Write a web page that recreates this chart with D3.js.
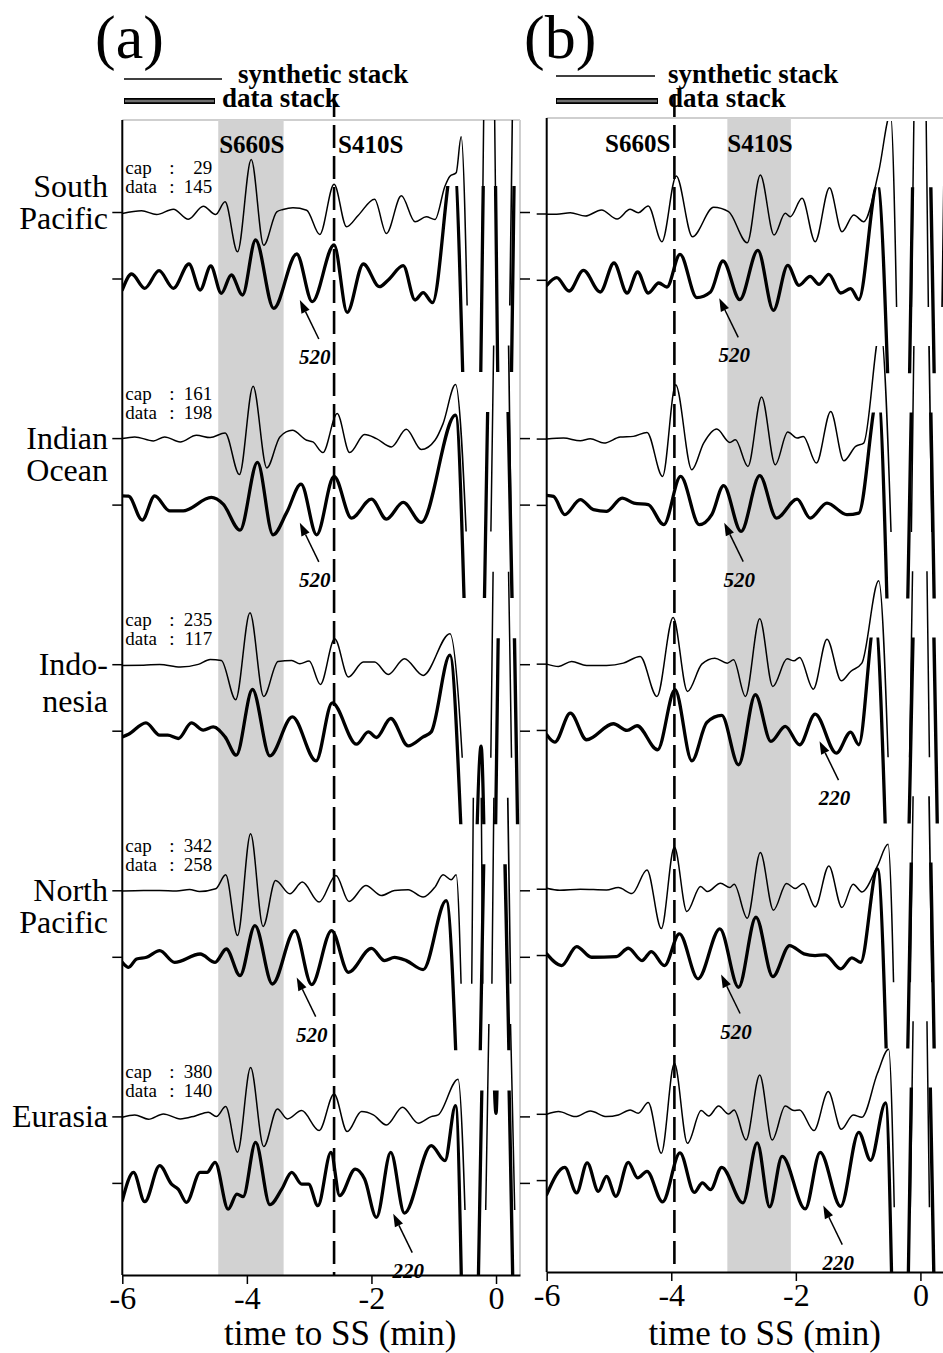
<!DOCTYPE html>
<html>
<head>
<meta charset="utf-8">
<script src="https://cdn.jsdelivr.net/npm/d3@7"></script>
<style>
  body { margin: 0; background: #fff; }
  svg { display: block; }
  text { font-family: "Liberation Serif", "Times New Roman", serif; fill: #000; }
</style>
</head>
<body>
<svg id="fig" width="943" height="1353"></svg>
<script>
// ---------------------------------------------------------------
// SS precursor stacks: synthetic vs. data, two alignments (a) and (b)
// Each trace is a list of [time to SS (min), relative amplitude].
// ---------------------------------------------------------------
const regionNames  = ["South Pacific", "Indian Ocean", "Indonesia", "North Pacific", "Eurasia"];
const regionLabels = [["South", "Pacific"], ["Indian", "Ocean"], ["Indo-", "nesia"], ["North", "Pacific"], ["Eurasia"]];
const capCounts  = [29, 161, 235, 342, 380];
const dataCounts = [145, 198, 117, 258, 140];
const timeTicks  = [-6, -4, -2, 0];
const timeDomain = [-6, 0.385];

// phase windows (shaded) and reference arrival (dashed), minutes
const shadeA = [-4.46, -3.41];
const dashA  = -2.60;
const shadeB = [-3.10, -2.08];
const dashB  = -3.95;

// ---------------- panel (a) ----------------
const synA_SP = [[-6,-0.1],[-5.69,0.17],[-5.45,-0.2],[-5.18,0.33],[-4.94,-0.67],[-4.70,0.63],[-4.50,-0.2],[-4.35,1.07],[-4.15,-3.93],[-3.93,5.3],[-3.73,-3.27],[-3.52,0.07],[-3.42,0.3],[-3.26,0.47],[-3.04,0.23],[-2.83,-2.2],[-2.60,2.83],[-2.40,-1.43],[-2.21,-0.27],[-1.95,1.33],[-1.76,-2.1],[-1.52,1.67],[-1.30,-0.93],[-1.12,-0.43],[-0.98,-0.7],[-0.82,2.63],[-0.74,3.63],[-0.64,3.97],[-0.56,7.57],[-0.32,-40],[-0.11,40],[0.10,-40],[0.32,40]];
const datA_SP = [[-6,-1.1],[-5.85,0.5],[-5.64,-0.93],[-5.41,0.83],[-5.18,-0.93],[-4.93,1.5],[-4.75,-1.1],[-4.58,1.3],[-4.41,-1.43],[-4.25,0.4],[-4.07,-1.6],[-3.86,3.9],[-3.57,-2.93],[-3.20,2.5],[-2.95,-2.27],[-2.60,3.4],[-2.39,-3.33],[-2.13,1.5],[-1.87,-0.77],[-1.73,-0.1],[-1.49,1.33],[-1.30,-2.1],[-1.17,-1.37],[-1.02,-2.37],[-0.68,12],[-0.35,-40],[-0.10,40],[0.12,-40],[0.35,40]];

const synA_IO = [[-6,0],[-5.80,0.17],[-5.50,-0.23],[-5.32,0.17],[-5.07,-0.33],[-4.81,0.33],[-4.59,0.1],[-4.35,0.57],[-4.12,-3.6],[-3.90,5.23],[-3.68,-2.93],[-3.47,0.17],[-3.27,0.83],[-3.04,-0.17],[-2.94,-0.33],[-2.78,-1.4],[-2.55,2.5],[-2.35,-1.4],[-2.11,0.4],[-1.92,0],[-1.68,-0.83],[-1.44,0.93],[-1.20,-1.1],[-0.98,-0.17],[-0.85,1.5],[-0.65,5.4],[-0.20,-40],[0.08,40],[0.30,-40]];
const datA_IO = [[-6,0.93],[-5.9,0.9],[-5.68,-1.5],[-5.48,0.93],[-5.24,-0.57],[-5.02,-0.57],[-4.57,0.77],[-4.38,0.1],[-4.11,-2.5],[-3.83,4.27],[-3.58,-2.97],[-3.36,-0.73],[-3.13,2.1],[-2.88,-2.97],[-2.60,2.87],[-2.32,-1.3],[-2.00,0.6],[-1.76,-1.4],[-1.49,0.27],[-1.20,-1.73],[-0.65,9.0],[-0.32,-40],[0.0,40],[0.35,-40]];

const synA_ID = [[-6,-0.07],[-5.66,-0.05],[-5.40,0.03],[-5.07,-0.23],[-4.78,0.03],[-4.59,0.53],[-4.41,0.43],[-4.18,-3.5],[-3.95,5.2],[-3.73,-3.17],[-3.50,0.33],[-3.28,0.43],[-3.15,0.1],[-3.0,0.37],[-2.82,-1.97],[-2.59,2.6],[-2.37,-1.23],[-2.13,0.27],[-1.95,0.27],[-1.73,-0.97],[-1.47,0.6],[-1.17,-1.07],[-0.74,3.1],[-0.18,-40],[0.05,40],[0.32,-40]];
const datA_ID = [[-6,-0.57],[-5.9,-0.3],[-5.62,0.83],[-5.40,-0.4],[-5.27,-0.4],[-5.10,-0.73],[-4.89,0.83],[-4.70,0.1],[-4.54,0.43],[-4.35,-0.57],[-4.17,-2.4],[-3.91,4.17],[-3.63,-2.47],[-3.27,1.43],[-2.89,-2.97],[-2.63,2.83],[-2.24,-1.3],[-2.05,-0.07],[-1.92,-0.63],[-1.69,1.27],[-1.41,-1.47],[-1.17,-0.57],[-1.04,-0.07],[-0.74,7.6],[-0.40,-25],[-0.24,-1.5],[-0.10,-35],[0.14,40],[0.42,-40]];

const synA_NP = [[-6,-0.03],[-5.66,0.03],[-5.40,0.03],[-5.13,-0.03],[-4.92,0.13],[-4.76,-0.07],[-4.50,0.2],[-4.34,1.6],[-4.15,-4.47],[-3.94,5.7],[-3.74,-3.57],[-3.54,1.03],[-3.31,-0.3],[-3.11,0.87],[-2.84,-1.13],[-2.57,1.53],[-2.36,-1.07],[-2.09,0.53],[-1.84,-0.47],[-1.63,0.03],[-1.41,0.1],[-1.17,-0.63],[-0.98,0.37],[-0.85,1.6],[-0.72,1.1],[-0.64,1.6],[-0.44,-30],[-0.30,40],[-0.15,-40],[0.05,40],[0.30,-40]];
const datA_NP = [[-6,-0.5],[-5.9,-1.0],[-5.77,-0.17],[-5.61,0],[-5.40,0.67],[-5.16,-0.5],[-4.75,0.33],[-4.51,-0.5],[-4.33,0.83],[-4.11,-1.83],[-3.87,3.17],[-3.59,-2.67],[-3.23,2.67],[-2.96,-2.73],[-2.64,2.67],[-2.37,-1.5],[-2.0,0.9],[-1.79,-0.33],[-1.63,0],[-1.44,-0.33],[-1.17,-1.23],[-0.80,5.67],[-0.40,-40],[-0.05,40],[0.30,-40]];

const synA_EU = [[-6,-0.03],[-5.80,0.2],[-5.58,-0.23],[-5.34,0.3],[-5.07,-0.2],[-4.83,0.1],[-4.62,0.47],[-4.49,0.03],[-4.34,1.03],[-4.15,-3.53],[-3.94,4.93],[-3.73,-2.97],[-3.51,0.8],[-3.35,-0.2],[-3.12,0.63],[-2.84,-1.37],[-2.60,2.3],[-2.39,-1.47],[-2.16,0.53],[-1.97,0.2],[-1.76,-0.8],[-1.50,0.97],[-1.25,-0.63],[-1.04,0.03],[-0.93,0.2],[-0.61,3.77],[-0.30,-40],[0.02,40],[0.40,-40]];
const datA_EU = [[-6,-1.73],[-5.82,1.1],[-5.64,-1.83],[-5.40,1.77],[-5.21,-0.07],[-5.10,-0.6],[-4.97,-1.9],[-4.75,1.1],[-4.64,1.1],[-4.51,2.1],[-4.30,-2.57],[-4.16,-1.07],[-4.06,-1.33],[-3.86,4.1],[-3.63,-2.13],[-3.44,-0.57],[-3.28,1.1],[-3.12,-0.07],[-3.01,-0.07],[-2.86,-2.23],[-2.65,3.1],[-2.51,-1.23],[-2.26,1.43],[-2.11,0.43],[-1.92,-3.4],[-1.69,3.1],[-1.47,-2.97],[-1.04,3.77],[-0.82,2.27],[-0.65,7.77],[-0.42,-40],[-0.12,30],[0.0,7],[0.08,30],[0.35,-40]];

// ---------------- panel (b) ----------------
const synB_SP = [[-6,-0.03],[-5.84,-0.03],[-5.62,0.13],[-5.38,-0.2],[-5.12,0.4],[-4.87,-0.5],[-4.66,0.47],[-4.53,0.13],[-4.37,0.8],[-4.15,-2.77],[-3.92,3.8],[-3.66,-2.27],[-3.32,0.67],[-3.08,0.23],[-2.78,-2.87],[-2.57,3.9],[-2.35,-2.1],[-2.17,0.07],[-2.09,-0.27],[-1.90,1.57],[-1.69,-2.77],[-1.46,2.63],[-1.26,-1.77],[-1.07,-0.1],[-0.91,-0.77],[-0.67,4.23],[-0.48,10],[-0.25,-40],[0.0,40],[0.22,-40],[0.45,40]];
const datB_SP = [[-6,-0.5],[-5.84,0.27],[-5.64,-1.07],[-5.41,1.0],[-5.14,-1.17],[-4.92,1.73],[-4.71,-1.27],[-4.54,0.83],[-4.37,-1.27],[-4.20,-0.27],[-4.07,-0.67],[-3.86,2.6],[-3.59,-1.73],[-3.37,-1.17],[-3.17,1.93],[-2.90,-1.93],[-2.61,3.0],[-2.36,-3.0],[-2.13,1.5],[-1.95,-0.5],[-1.77,0.4],[-1.63,-0.4],[-1.47,0.6],[-1.28,-1.27],[-1.12,-0.83],[-0.99,-1.93],[-0.69,9.6],[-0.30,-40],[0.0,40],[0.30,-40]];

const synB_IO = [[-6,0],[-5.73,0.1],[-5.46,-0.17],[-5.30,0.03],[-5.08,-0.4],[-4.82,0.2],[-4.61,0.27],[-4.39,0.67],[-4.14,-3.73],[-3.93,5.43],[-3.67,-3.07],[-3.48,-0.4],[-3.27,1.0],[-3.06,-0.33],[-2.97,-0.07],[-2.77,-2.73],[-2.55,4.2],[-2.33,-2.57],[-2.13,0.7],[-1.98,0.1],[-1.88,0.27],[-1.67,-2.4],[-1.44,2.77],[-1.23,-2.17],[-1.04,-0.73],[-0.91,-0.4],[-0.64,11],[-0.25,-40],[0.0,40],[0.25,-40]];
const datB_IO = [[-6,1.0],[-5.89,0.9],[-5.71,-0.93],[-5.46,0.57],[-5.25,-0.43],[-5.04,-0.6],[-4.79,0.73],[-4.60,0.23],[-4.37,0.07],[-4.12,-1.93],[-3.85,2.9],[-3.55,-1.93],[-3.35,-0.93],[-3.16,1.97],[-2.88,-2.6],[-2.58,2.97],[-2.31,-1.27],[-1.98,0.63],[-1.77,-1.27],[-1.50,0.23],[-1.18,-0.93],[-0.99,-0.77],[-0.68,11],[-0.35,-40],[0.0,40],[0.30,-40]];

const synB_ID = [[-6,0],[-5.81,-0.23],[-5.60,0.27],[-5.36,-0.13],[-5.04,-0.13],[-4.77,0.1],[-4.50,0.77],[-4.23,-3.23],[-3.97,4.67],[-3.74,-2.73],[-3.51,0],[-3.30,0.6],[-3.10,0.1],[-3.0,0.43],[-2.81,-3.23],[-2.58,4.53],[-2.37,-2.23],[-2.14,0.53],[-2.03,0.33],[-1.94,0.67],[-1.72,-2.5],[-1.50,2.5],[-1.27,-1.67],[-1.12,-0.73],[-0.94,0.1],[-0.67,8.33],[-0.30,-40],[0.0,40],[0.25,-40],[0.5,40]];
const datB_ID = [[-6,-0.43],[-5.87,-1.17],[-5.62,1.73],[-5.36,-0.93],[-4.93,0.67],[-4.71,0],[-4.55,0.47],[-4.22,-1.93],[-3.94,4.07],[-3.67,-3.03],[-3.43,0.8],[-3.19,1.5],[-2.92,-3.43],[-2.65,3.57],[-2.40,-1.1],[-2.17,0.4],[-1.94,-1.43],[-1.69,1.63],[-1.35,-2.27],[-1.12,-0.17],[-0.99,-1.43],[-0.73,11],[-0.35,-40],[0.05,40],[0.35,-40]];

const synB_NP = [[-6,0.1],[-5.79,-0.1],[-5.46,0],[-5.04,-0.07],[-4.85,0.17],[-4.63,-0.43],[-4.39,1.93],[-4.16,-3.93],[-3.95,4.23],[-3.75,-2.23],[-3.53,0.27],[-3.42,-0.23],[-3.21,0.6],[-3.06,0.17],[-2.99,0.5],[-2.78,-2.9],[-2.57,3.67],[-2.36,-2.1],[-2.15,0.57],[-2.01,0.07],[-1.88,0.57],[-1.69,-1.77],[-1.47,2.33],[-1.26,-1.83],[-1.08,0.5],[-0.94,-0.27],[-0.69,2.33],[-0.52,4.5],[-0.28,-40],[0.0,40],[0.25,-40]];
const datB_NP = [[-6,0.17],[-5.76,-1.0],[-5.52,0.9],[-5.28,-0.17],[-4.88,-0.1],[-4.69,0.73],[-4.47,-0.5],[-4.32,0.4],[-4.11,-1.0],[-3.87,2.17],[-3.57,-2.33],[-3.22,2.67],[-2.92,-3.17],[-2.64,3.83],[-2.37,-2.1],[-2.10,1.0],[-1.87,0.17],[-1.69,0],[-1.53,0.07],[-1.28,-1.33],[-1.10,-0.23],[-0.96,-0.67],[-0.69,8.67],[-0.35,-40],[0.0,40],[0.30,-40]];

const synB_EU = [[-6,0],[-5.81,0.27],[-5.54,-0.23],[-5.30,0.33],[-5.04,-0.23],[-4.85,-0.07],[-4.66,0.43],[-4.53,0.1],[-4.37,1.17],[-4.16,-3.9],[-3.95,5.1],[-3.74,-2.9],[-3.52,0.37],[-3.40,-0.17],[-3.24,0.83],[-3.08,0.03],[-2.99,0.43],[-2.80,-2.57],[-2.58,3.93],[-2.38,-2.57],[-2.17,0.83],[-2.03,0.37],[-1.94,0.43],[-1.71,-1.63],[-1.48,2.27],[-1.27,-1.5],[-1.08,-0.07],[-0.94,-0.3],[-0.69,4.1],[-0.51,6.5],[-0.28,-40],[0.0,40],[0.25,-40],[0.5,40]];
const datB_EU = [[-6,-1.4],[-5.71,1.33],[-5.52,-1.23],[-5.35,1.77],[-5.17,-1.07],[-5.04,0.43],[-4.89,-1.57],[-4.69,1.83],[-4.54,0.27],[-4.39,0.93],[-4.14,-2.13],[-3.86,2.77],[-3.63,-1.17],[-3.50,-0.23],[-3.37,-0.9],[-3.19,1.33],[-2.85,-2.23],[-2.62,3.77],[-2.42,-2.63],[-2.22,2.43],[-1.85,-2.83],[-1.61,2.83],[-1.28,-2.57],[-0.99,4.83],[-0.80,2.03],[-0.56,7.77],[-0.32,-40],[-0.02,40],[0.30,-40]];

// depth annotations on the data stacks: [region index, label, time, amplitude]
const notesA = [[0, "520", -3.15, -2.1], [1, "520", -3.15, -1.77], [3, "520", -3.20, -2.03], [4, "220", -1.65, -3.03]];
const notesB = [[0, "520", -3.23, -1.8], [1, "520", -3.15, -1.73], [2, "220", -1.62, -1.07], [3, "520", -3.20, -1.9], [4, "220", -1.56, -2.5]];

// ---------------------------------------------------------------
const svg = d3.select("#fig");
const AMP_PX = 10;     // pixels per amplitude unit
const CLIP_PX = 93;    // each trace is clipped to +/- this many pixels about its baseline

const panels = [
  { key: "a", left: 122.3, right: 520, top: 120, bottom: 1275, base: [212.5, 1116.9], dataOffset: 66.5,
    shade: shadeA, dash: dashA, synth: [synA_SP, synA_IO, synA_ID, synA_NP, synA_EU],
    data: [datA_SP, datA_IO, datA_ID, datA_NP, datA_EU], notes: notesA, counts: true, regions: true },
  { key: "b", left: 546.7, right: 944.4, top: 118, bottom: 1272, base: [214, 1114.3], dataOffset: 66.3,
    shade: shadeB, dash: dashB, synth: [synB_SP, synB_IO, synB_ID, synB_NP, synB_EU],
    data: [datB_SP, datB_IO, datB_ID, datB_NP, datB_EU], notes: notesB, counts: false, regions: false }
];

const defs = svg.append("defs");

panels.forEach(P => {
  const x = d3.scaleLinear().domain(timeDomain).range([P.left, P.right]);
  const yBase = d3.scaleLinear().domain([0, regionNames.length - 1]).range(P.base);
  const amp = d3.scaleLinear().domain([-1, 1]).range([AMP_PX, -AMP_PX]);
  const g = svg.append("g").attr("class", "panel-" + P.key);

  // frame: light top / right edges
  g.append("line").attr("x1", P.left).attr("x2", P.right).attr("y1", P.top).attr("y2", P.top)
    .attr("stroke", "#cfcfcf").attr("stroke-width", 2);
  g.append("line").attr("x1", P.right).attr("x2", P.right).attr("y1", P.top).attr("y2", P.bottom)
    .attr("stroke", "#cfcfcf").attr("stroke-width", 2);

  // shaded phase window
  g.append("rect").attr("x", x(P.shade[0])).attr("width", x(P.shade[1]) - x(P.shade[0]))
    .attr("y", P.top).attr("height", P.bottom - P.top).attr("fill", "#d2d2d2");

  // reference arrival
  g.append("line").attr("x1", x(P.dash)).attr("x2", x(P.dash)).attr("y1", 94).attr("y2", P.bottom)
    .attr("stroke", "#000").attr("stroke-width", 2.6).attr("stroke-dasharray", "23,8");

  // phase labels
  const lab = g.append("g").style("font-weight", "bold").style("font-size", "25px");
  if (P.key === "a") {
    lab.append("text").attr("x", x(P.shade[0]) + 1).attr("y", 153).text("S660S");
    lab.append("text").attr("x", x(P.dash) + 4).attr("y", 153).text("S410S");
  } else {
    lab.append("text").attr("x", x(P.dash) - 4).attr("y", 152).attr("text-anchor", "end").text("S660S");
    lab.append("text").attr("x", x(P.shade[0])).attr("y", 152).text("S410S");
  }

  // traces
  const line = d3.line().x(d => x(d[0])).curve(d3.curveMonotoneX);
  regionNames.forEach((name, i) => {
    const sb = yBase(i), db = sb + P.dataOffset;
    [[P.synth[i], sb, 1.5, "s"], [P.data[i], db, 3.3, "d"]].forEach(([pts, b, w, kind]) => {
      const id = `clip-${P.key}-${i}-${kind}`;
      const y0 = Math.max(P.top, b - CLIP_PX), y1 = Math.min(P.bottom, b + CLIP_PX);
      defs.append("clipPath").attr("id", id).append("rect")
        .attr("x", P.left).attr("y", y0).attr("width", P.right - P.left).attr("height", y1 - y0);
      g.append("path").datum(pts)
        .attr("d", line.y(d => b + amp(d[1]))(pts))
        .attr("clip-path", `url(#${id})`)
        .attr("fill", "none").attr("stroke", "#000").attr("stroke-width", w)
        .attr("stroke-linejoin", "round").attr("stroke-linecap", "round");
    });

    // baseline ticks on the left (and right) edges
    [sb, db].forEach(b => {
      g.append("line").attr("x1", P.left - 10).attr("x2", P.left).attr("y1", b).attr("y2", b)
        .attr("stroke", "#000").attr("stroke-width", 1.5);
      g.append("line").attr("x1", P.right).attr("x2", P.right + 10).attr("y1", b).attr("y2", b)
        .attr("stroke", "#000").attr("stroke-width", 1.5);
    });

    // stack counts
    if (P.counts) {
      const cg = g.append("g").style("font-size", "19px");
      [["cap", capCounts[i], -39], ["data", dataCounts[i], -20]].forEach(([k, v, dy]) => {
        cg.append("text").attr("x", P.left + 3).attr("y", sb + dy).text(k);
        cg.append("text").attr("x", P.left + 47).attr("y", sb + dy).text(":");
        cg.append("text").attr("x", P.left + 90).attr("y", sb + dy).attr("text-anchor", "end").text(v);
      });
    }

    // region names
    if (P.regions) {
      const lines = regionLabels[i];
      const first = i === 0 ? -16 : 10;
      const step = i === 2 ? 37 : 32;
      lines.forEach((t, k) => {
        g.append("text").attr("x", 108).attr("y", sb + first + k * step)
          .attr("text-anchor", "end").style("font-size", "32px").text(t);
      });
    }
  });

  // depth arrows
  P.notes.forEach(([i, label, t, a]) => {
    const hx = x(t), hy = yBase(i) + P.dataOffset + amp(a);
    const tx = hx + 19, ty = hy + 39;
    const ang = Math.atan2(hy - ty, hx - tx);
    const L = 13, Wd = 4.5;
    const bx = hx - L * Math.cos(ang), by = hy - L * Math.sin(ang);
    g.append("line").attr("x1", tx).attr("y1", ty).attr("x2", bx).attr("y2", by)
      .attr("stroke", "#000").attr("stroke-width", 1.5);
    g.append("path")
      .attr("d", `M${hx},${hy}L${bx + Wd * Math.sin(ang)},${by - Wd * Math.cos(ang)}L${bx - Wd * Math.sin(ang)},${by + Wd * Math.cos(ang)}Z`)
      .attr("fill", "#000");
    g.append("text").attr("x", tx - 4).attr("y", ty + 25).attr("text-anchor", "middle")
      .style("font-size", "21px").style("font-weight", "bold").style("font-style", "italic").text(label);
  });

  // left axis line
  g.append("line").attr("x1", P.left).attr("x2", P.left).attr("y1", P.top).attr("y2", P.bottom)
    .attr("stroke", "#000").attr("stroke-width", 2);

  // time axis
  const ax = g.append("g").attr("transform", `translate(0,${P.bottom})`)
    .call(d3.axisBottom(x).tickValues(timeTicks).tickSize(9).tickSizeOuter(0).tickFormat(d => String(d)));
  ax.select(".domain").attr("stroke-width", 2);
  ax.selectAll(".tick line").attr("stroke-width", 1.5);
  ax.selectAll(".tick text").attr("font-family", null).style("font-size", "32px").attr("dy", "0.72em").attr("y", 11);
  g.append("text").attr("x", x(-2.5)).attr("y", 1345).attr("text-anchor", "middle")
    .style("font-size", "35px").text("time to SS (min)");
});

// panel tags and legends
const legends = [
  { tag: "(a)", tagX: 95, lx0: 124, lx1: 222, ly: 79, dx0: 124, dx1: 215, dy: 101, tx1: 238, tx2: 222 },
  { tag: "(b)", tagX: 524, lx0: 556, lx1: 655, ly: 76, dx0: 556, dx1: 658, dy: 101, tx1: 668, tx2: 668 }
];
legends.forEach(L => {
  const g = svg.append("g");
  g.append("text").attr("x", L.tagX).attr("y", 58).style("font-size", "62px").text(L.tag);
  g.append("line").attr("x1", L.lx0).attr("x2", L.lx1).attr("y1", L.ly).attr("y2", L.ly)
    .attr("stroke", "#000").attr("stroke-width", 1.5);
  g.append("line").attr("x1", L.dx0).attr("x2", L.dx1).attr("y1", L.dy).attr("y2", L.dy)
    .attr("stroke", "#000").attr("stroke-width", 6);
  g.append("line").attr("x1", L.dx0 + 1).attr("x2", L.dx1 - 1).attr("y1", L.dy).attr("y2", L.dy)
    .attr("stroke", "#6e6e6e").attr("stroke-width", 2.5);
  g.append("text").attr("x", L.tx1).attr("y", 83).style("font-size", "27px").style("font-weight", "bold").text("synthetic stack");
  g.append("text").attr("x", L.tx2).attr("y", 107).style("font-size", "27px").style("font-weight", "bold").text("data stack");
});
</script>
</body>
</html>
